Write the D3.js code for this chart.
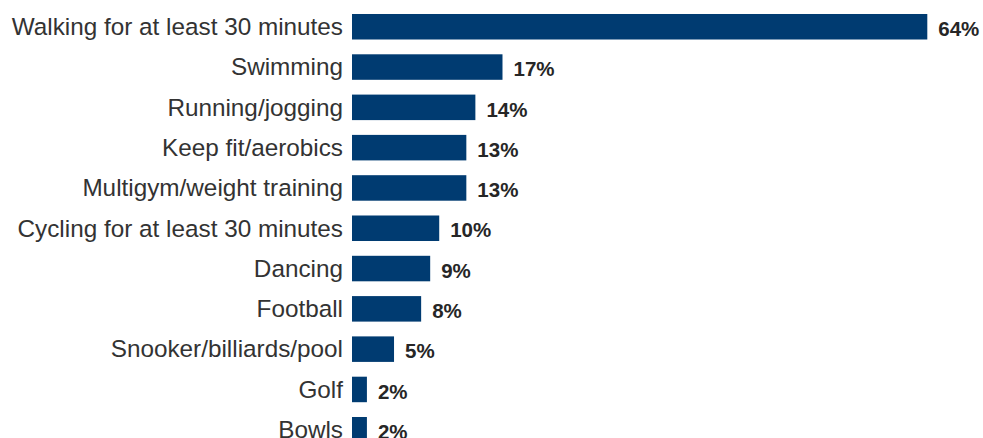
<!DOCTYPE html>
<html>
<head>
<meta charset="utf-8">
<script src="https://cdn.jsdelivr.net/npm/d3@7"></script>
<style>
  html, body { margin: 0; padding: 0; background: #ffffff; }
  svg { display: block; }
</style>
</head>
<body>
<svg id="chart" width="983" height="438"></svg>
<script>
const categories = [
  "Walking for at least 30 minutes",
  "Swimming",
  "Running/jogging",
  "Keep fit/aerobics",
  "Multigym/weight training",
  "Cycling for at least 30 minutes",
  "Dancing",
  "Football",
  "Snooker/billiards/pool",
  "Golf",
  "Bowls"
];
const values = [64, 17, 14, 13, 13, 10, 9, 8, 5, 2, 2];
const valueLabels = ["64%", "17%", "14%", "13%", "13%", "10%", "9%", "8%", "5%", "2%", "2%"];

const svg = d3.select("#chart");
const barColor = "#003b71";

const x = d3.scaleLinear().domain([0.35, 64]).range([352, 927.3]);
const y = d3.scaleBand().domain(categories)
  .range([6.6, 6.6 + 11 * 40.3])
  .paddingInner(0.367).paddingOuter(0.1835);

const data = categories.map((c, i) => ({ c, v: values[i], label: valueLabels[i] }));

svg.append("g").selectAll("rect").data(data).join("rect")
  .attr("x", x.range()[0])
  .attr("y", d => y(d.c))
  .attr("width", d => x(d.v) - x.range()[0])
  .attr("height", y.bandwidth())
  .attr("fill", barColor);

const yAxis = d3.axisLeft(y).tickSize(0).tickPadding(9);
const gy = svg.append("g").attr("transform", `translate(${x.range()[0]},0.5)`).call(yAxis);
gy.select(".domain").remove();
gy.selectAll("text")
  .attr("font-family", "Liberation Sans, Arial, sans-serif")
  .attr("font-size", "24.3px")
  .attr("fill", "#333333");

svg.append("g").selectAll("text").data(data).join("text")
  .attr("x", d => x(d.v) + 11)
  .attr("y", d => y(d.c) + y.bandwidth() / 2 + 2)
  .attr("dy", "0.35em")
  .attr("font-family", "Liberation Sans, Arial, sans-serif")
  .attr("font-weight", "bold")
  .attr("font-size", "20.5px")
  .attr("fill", "#262626")
  .text(d => d.label);
</script>
</body>
</html>
